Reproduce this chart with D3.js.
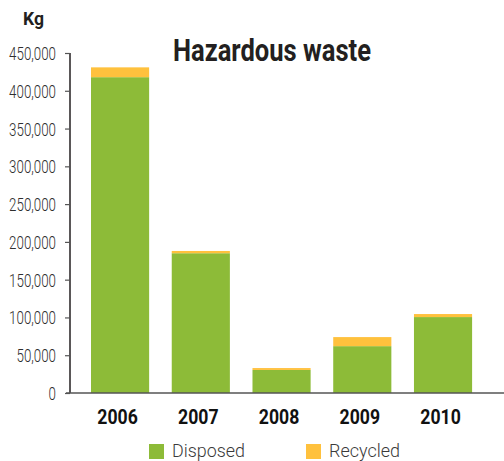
<!DOCTYPE html>
<html>
<head>
<meta charset="utf-8">
<script src="https://cdn.jsdelivr.net/npm/d3@7"></script>
<style>
  html, body { margin: 0; padding: 0; background: #fff; }
  svg { display: block; }
  text { font-family: Roboto, "Liberation Sans", sans-serif; }
</style>
</head>
<body>
<svg id="chart" width="504" height="461"></svg>
<script>
// Hazardous waste by year, kg
const years = ["2006", "2007", "2008", "2009", "2010"];
const disposed = [418000, 185000, 30500, 62000, 100500];
const recycled = [13000, 3000, 2500, 12000, 4000];
const seriesNames = ["Disposed", "Recycled"];
const seriesColors = ["#8DBB38", "#FFC13D"];
const yTicks = [0, 50000, 100000, 150000, 200000, 250000, 300000, 350000, 400000, 450000];

const svg = d3.select("#chart");

// squeeze text horizontally to get a condensed face
function condense(sel, factor) {
  sel.each(function () {
    const w = this.getComputedTextLength();
    d3.select(this).attr("textLength", w * factor).attr("lengthAdjust", "spacingAndGlyphs");
  });
}
function fitWidth(sel, width) {
  sel.attr("textLength", width).attr("lengthAdjust", "spacingAndGlyphs");
}

const rows = years.map((y, i) => ({ year: y, Disposed: disposed[i], Recycled: recycled[i] }));
const stacked = d3.stack().keys(seriesNames)(rows);

const x = d3.scaleBand().domain(years).range([79.7, 483.4]).paddingInner(0.28).paddingOuter(0.14);
const y = d3.scaleLinear().domain([0, 450000]).range([393, 53]);
const color = d3.scaleOrdinal().domain(seriesNames).range(seriesColors);

// bars
svg.append("g").selectAll("g").data(stacked).join("g")
  .attr("fill", d => color(d.key))
  .selectAll("rect").data(d => d).join("rect")
  .attr("x", d => x(d.data.year))
  .attr("width", x.bandwidth())
  .attr("y", d => y(d[1]))
  .attr("height", d => y(d[0]) - y(d[1]));

// y axis
const fmt = d3.format(",");
const yAxis = svg.append("g").attr("transform", "translate(70,0)")
  .call(d3.axisLeft(y).tickValues(yTicks).tickFormat(fmt).tickSize(5).tickPadding(9));
yAxis.select(".domain").attr("stroke", "#231f20").attr("stroke-width", 1.5).attr("d", "M0,53V393");
yAxis.selectAll(".tick line").attr("stroke", "#555").attr("stroke-width", 1.2);
yAxis.selectAll(".tick text")
  .attr("fill", "#2e2e2e")
  .style("font-size", "18px")
  .style("font-weight", "300")
  .attr("dy", "0.36em")
  .call(condense, 0.74);

// x axis baseline
svg.append("line")
  .attr("x1", 66).attr("x2", 504)
  .attr("y1", y(0)).attr("y2", y(0))
  .attr("stroke", "#555").attr("stroke-width", 1.5);

// year labels
svg.append("g").selectAll("text").data(years).join("text")
  .attr("x", d => x(d) + x.bandwidth() / 2 - 2.5)
  .attr("y", 424)
  .attr("text-anchor", "middle")
  .attr("fill", "#111")
  .style("font-size", "20.5px")
  .style("font-weight", "bold")
  .text(d => d)
  .call(condense, 0.86);

// unit label
svg.append("text")
  .attr("x", 23).attr("y", 25)
  .attr("fill", "#231f20")
  .style("font-size", "18px")
  .style("font-weight", "bold")
  .text("Kg")
  .call(fitWidth, 21);

// title
svg.append("text")
  .attr("x", 173).attr("y", 61)
  .attr("fill", "#231f20")
  .style("font-size", "31px")
  .style("font-weight", "bold")
  .text("Hazardous waste")
  .call(fitWidth, 198);

// legend
const legendX = [149, 306];
const legendW = [73, 71];
const legend = svg.append("g").selectAll("g").data(seriesNames).join("g")
  .attr("transform", (d, i) => `translate(${legendX[i]},444)`);
legend.append("rect").attr("width", 15).attr("height", 15).attr("fill", d => color(d));
legend.append("text")
  .attr("x", 23).attr("y", 13)
  .attr("fill", "#3a3a3a")
  .style("font-size", "18px")
  .style("font-weight", "300")
  .text(d => d)
  .each(function (d, i) { d3.select(this).call(fitWidth, legendW[i]); });
</script>
</body>
</html>
